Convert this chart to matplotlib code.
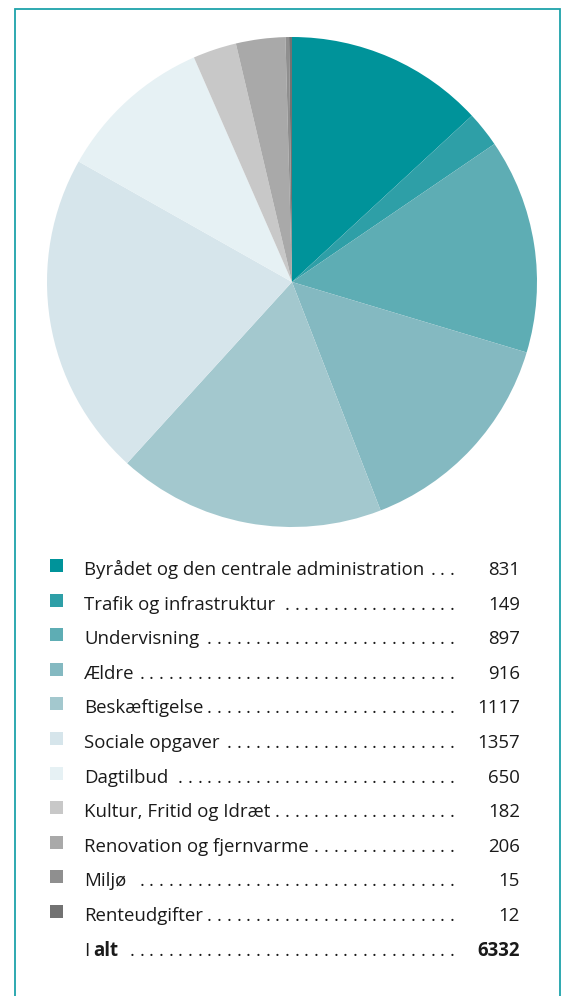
import matplotlib
matplotlib.use("Agg")
import matplotlib.pyplot as plt
from matplotlib.patches import Rectangle

categories = ["Byrådet og den centrale administration", "Trafik og infrastruktur",
              "Undervisning", "Ældre", "Beskæftigelse", "Sociale opgaver", "Dagtilbud",
              "Kultur, Fritid og Idræt", "Renovation og fjernvarme", "Miljø", "Renteudgifter"]
values = [831, 149, 897, 916, 1117, 1357, 650, 182, 206, 15, 12]
total_label = "6332"
colors = ["#00939a", "#2e9fa7", "#5eadb4", "#84b9c1", "#a3c8ce", "#d6e5eb",
          "#e6f1f4", "#c8c8c8", "#a9a9a9", "#8f8f8f", "#727272"]

W, H = 563, 996
FONT = "Open Sans"
FS = 13.4

fig = plt.figure(figsize=(W / 100, H / 100), dpi=100)
ax = fig.add_axes([0, 0, 1, 1])
ax.set_xlim(0, W)
ax.set_ylim(0, H)
ax.set_aspect("equal")
ax.axis("off")

def Y(py):
    return H - py

# border (top, left, right)
bc = "#1ea3aa"
ax.plot([15, 15, 560, 560], [Y(1000), Y(9), Y(9), Y(1000)], color=bc, lw=1.3,
        solid_joinstyle="miter")

# pie
ax.pie(values, colors=colors, startangle=90, counterclock=False,
       center=(292, Y(282)), radius=245, frame=True,
       wedgeprops=dict(linewidth=0))
ax.set_xlim(0, W)
ax.set_ylim(0, H)
ax.axis("off")

fig.canvas.draw()
renderer = fig.canvas.get_renderer()

base0 = 575
step = 34.6
dot_end = 452
dot_step = 9.7
TC = "#1a1a1a"

def leader(x_end_px, baseline):
    x = dot_end
    while x > x_end_px + 6:
        ax.text(x, Y(baseline), ".", fontsize=FS, family=FONT, ha="center",
                va="baseline", color=TC)
        x -= dot_step

def text_end(t):
    return t.get_window_extent(renderer=renderer).x1

for i, (lab, val, col) in enumerate(zip(categories, values, colors)):
    b = base0 + step * i
    ax.add_patch(Rectangle((50, Y(b - 3)), 13, 13, color=col, lw=0))
    t = ax.text(84, Y(b), lab, fontsize=FS, family=FONT, ha="left", va="baseline",
                color=TC)
    leader(text_end(t), b)
    ax.text(520, Y(b), str(val), fontsize=FS, family=FONT, ha="right", va="baseline",
            color=TC)

b = base0 + step * len(categories)
t1 = ax.text(84, Y(b), "I", fontsize=FS, family=FONT, ha="left", va="baseline",
             color=TC)
x1 = text_end(t1)
t2 = ax.text(x1 + 4, Y(b), "alt", fontsize=FS, family=FONT, fontweight="bold", ha="left",
             va="baseline", color=TC)
leader(text_end(t2), b)
ax.text(520, Y(b), total_label, fontsize=FS, family=FONT, fontweight="bold",
        ha="right", va="baseline", color=TC)

fig.savefig("out.png", dpi=100)
